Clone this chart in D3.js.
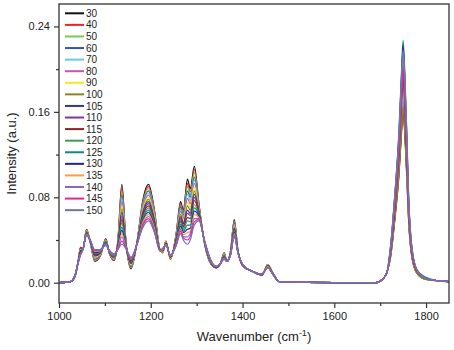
<!DOCTYPE html>
<html>
<head>
<meta charset="utf-8">
<script src="https://cdn.jsdelivr.net/npm/d3@7"></script>
<style>
html,body{margin:0;padding:0;background:#fff;}
svg{display:block;font-family:"Liberation Sans",Arial,sans-serif;}
</style>
</head>
<body>
<svg id="chart" width="454" height="350"></svg>
<script>
// ---- data ----
const wavenumbers = [1000,1025,1035,1042,1047,1052,1060,1068,1078,1090,1102,1110,1120,1128,1137,1146,1157,1170,1183,1195,1208,1220,1226,1233,1243,1255,1265,1271,1280,1286,1295,1305,1318,1332,1343,1352,1360,1366,1374,1382,1390,1402,1420,1442,1455,1466,1480,1600,1690,1705,1715,1722,1732,1741,1746,1750,1754,1758,1762,1769,1780,1800,1825,1850];

const seriesLabels = ["30","40","50","60","70","80","90","100","105","110","115","120","125","130","135","140","145","150"];
const seriesColors = ["#111111","#ee2222","#77cc44","#3355bb","#66ccdd","#cc55aa","#f5e820","#888822","#333399","#883399","#882222","#449955","#118888","#222299","#ff9944","#8866cc","#ee2288","#6677bb"];

const yTicksMajor = [0, 0.08, 0.16, 0.24];
const yTicksMinor = [0.04, 0.12, 0.20];
const xTicksMajor = [1000, 1200, 1400, 1600, 1800];
const xTicksMinor = [1100, 1300, 1500, 1700];

const s30 = [0,0.001,0.006,0.021,0.033,0.031,0.050,0.038,0.020,0.025,0.041,0.027,0.021,0.038,0.092,0.038,0.013,0.038,0.078,0.092,0.068,0.031,0.028,0.039,0.022,0.045,0.076,0.068,0.097,0.088,0.109,0.074,0.035,0.017,0.014,0.018,0.028,0.020,0.030,0.059,0.030,0.015,0.011,0.007,0.017,0.009,0.001,0,0,0.003,0.010,0.022,0.059,0.101,0.136,0.160,0.136,0.099,0.058,0.024,0.009,0.003,0.002,0.001];
const s40 = [0,0.001,0.006,0.021,0.033,0.031,0.050,0.038,0.021,0.025,0.041,0.027,0.021,0.038,0.089,0.038,0.014,0.038,0.076,0.090,0.067,0.031,0.028,0.039,0.022,0.044,0.074,0.066,0.093,0.085,0.106,0.073,0.035,0.017,0.014,0.018,0.028,0.020,0.030,0.058,0.030,0.015,0.011,0.007,0.017,0.009,0.001,0,0,0.003,0.010,0.023,0.061,0.104,0.140,0.165,0.140,0.102,0.059,0.025,0.009,0.003,0.002,0.001];
const s50 = [0,0.001,0.006,0.021,0.032,0.031,0.049,0.038,0.021,0.026,0.040,0.027,0.022,0.037,0.085,0.037,0.014,0.038,0.075,0.088,0.066,0.031,0.028,0.039,0.022,0.044,0.072,0.065,0.090,0.082,0.103,0.072,0.035,0.017,0.014,0.018,0.027,0.020,0.030,0.057,0.030,0.015,0.011,0.007,0.017,0.009,0.001,0,0,0.003,0.010,0.024,0.063,0.107,0.145,0.170,0.145,0.105,0.061,0.026,0.009,0.003,0.002,0.001];
const s60 = [0,0.001,0.006,0.021,0.032,0.031,0.049,0.038,0.022,0.026,0.040,0.028,0.022,0.037,0.082,0.037,0.015,0.038,0.073,0.086,0.064,0.031,0.029,0.038,0.023,0.043,0.071,0.063,0.086,0.080,0.099,0.071,0.036,0.018,0.014,0.018,0.027,0.020,0.029,0.056,0.030,0.015,0.011,0.007,0.016,0.009,0.001,0,0,0.003,0.010,0.025,0.065,0.110,0.149,0.175,0.149,0.109,0.063,0.026,0.010,0.004,0.002,0.001];
const s70 = [0,0.001,0.006,0.021,0.031,0.031,0.049,0.038,0.023,0.026,0.040,0.028,0.022,0.036,0.079,0.037,0.016,0.038,0.072,0.084,0.063,0.031,0.029,0.038,0.023,0.042,0.069,0.061,0.083,0.077,0.096,0.070,0.036,0.018,0.014,0.018,0.027,0.020,0.029,0.055,0.030,0.015,0.011,0.007,0.016,0.009,0.001,0,0,0.003,0.010,0.025,0.066,0.112,0.151,0.178,0.151,0.110,0.064,0.027,0.010,0.004,0.002,0.001];
const s80 = [0,0.001,0.006,0.020,0.031,0.031,0.048,0.039,0.023,0.027,0.039,0.028,0.023,0.036,0.076,0.036,0.016,0.037,0.070,0.082,0.062,0.031,0.029,0.038,0.023,0.042,0.067,0.060,0.079,0.074,0.093,0.069,0.036,0.018,0.014,0.018,0.026,0.020,0.029,0.054,0.029,0.015,0.011,0.007,0.016,0.009,0.001,0,0,0.003,0.010,0.026,0.068,0.117,0.157,0.185,0.157,0.115,0.067,0.028,0.010,0.004,0.002,0.001];
const s90 = [0,0.001,0.006,0.020,0.031,0.031,0.048,0.039,0.024,0.027,0.039,0.028,0.023,0.036,0.072,0.036,0.017,0.037,0.069,0.080,0.061,0.031,0.029,0.038,0.023,0.041,0.065,0.058,0.075,0.071,0.090,0.068,0.036,0.018,0.014,0.018,0.026,0.020,0.029,0.053,0.029,0.015,0.011,0.007,0.016,0.009,0.001,0,0,0.003,0.010,0.026,0.070,0.118,0.160,0.188,0.160,0.117,0.068,0.028,0.010,0.004,0.002,0.001];
const s100 = [0,0.001,0.006,0.020,0.030,0.031,0.048,0.039,0.025,0.027,0.039,0.028,0.023,0.035,0.069,0.036,0.018,0.037,0.067,0.078,0.059,0.031,0.030,0.037,0.024,0.040,0.064,0.056,0.072,0.068,0.086,0.067,0.036,0.018,0.014,0.018,0.026,0.020,0.028,0.052,0.029,0.015,0.011,0.007,0.016,0.009,0.001,0,0,0.003,0.010,0.023,0.061,0.104,0.140,0.165,0.140,0.102,0.059,0.025,0.009,0.003,0.002,0.001];
const s105 = [0,0.001,0.006,0.020,0.030,0.031,0.047,0.039,0.025,0.028,0.038,0.028,0.024,0.035,0.066,0.035,0.018,0.037,0.066,0.076,0.058,0.031,0.030,0.037,0.024,0.040,0.062,0.055,0.068,0.065,0.083,0.066,0.036,0.018,0.014,0.018,0.025,0.020,0.028,0.051,0.029,0.015,0.011,0.007,0.016,0.009,0.001,0,0,0.003,0.010,0.027,0.071,0.121,0.163,0.192,0.163,0.119,0.069,0.029,0.011,0.004,0.002,0.001];
const s110 = [0,0.001,0.007,0.020,0.029,0.031,0.047,0.039,0.026,0.028,0.038,0.029,0.024,0.034,0.062,0.035,0.019,0.037,0.064,0.074,0.057,0.030,0.030,0.037,0.024,0.039,0.060,0.053,0.065,0.063,0.080,0.066,0.037,0.019,0.015,0.018,0.025,0.020,0.028,0.051,0.029,0.016,0.011,0.008,0.015,0.008,0.001,0,0,0.003,0.010,0.028,0.073,0.124,0.167,0.197,0.167,0.122,0.071,0.030,0.011,0.004,0.002,0.001];
const s115 = [0,0.001,0.007,0.020,0.029,0.031,0.046,0.039,0.026,0.029,0.037,0.029,0.025,0.034,0.059,0.034,0.019,0.037,0.063,0.072,0.056,0.030,0.030,0.037,0.024,0.039,0.058,0.052,0.061,0.060,0.077,0.065,0.037,0.019,0.015,0.018,0.024,0.020,0.028,0.050,0.029,0.016,0.011,0.008,0.015,0.008,0.001,0,0,0.003,0.010,0.028,0.074,0.126,0.170,0.200,0.170,0.124,0.072,0.030,0.011,0.004,0.002,0.001];
const s120 = [0,0.001,0.007,0.020,0.028,0.031,0.046,0.039,0.027,0.029,0.037,0.029,0.025,0.033,0.056,0.034,0.020,0.037,0.061,0.070,0.054,0.030,0.031,0.036,0.025,0.038,0.057,0.050,0.058,0.057,0.073,0.064,0.037,0.019,0.015,0.018,0.024,0.020,0.027,0.049,0.029,0.016,0.011,0.008,0.015,0.008,0.001,0,0,0.003,0.010,0.029,0.078,0.132,0.179,0.210,0.179,0.130,0.076,0.032,0.012,0.004,0.002,0.001];
const s125 = [0,0.001,0.007,0.020,0.028,0.031,0.046,0.039,0.028,0.029,0.037,0.029,0.025,0.033,0.052,0.034,0.021,0.037,0.060,0.068,0.053,0.030,0.031,0.036,0.025,0.037,0.055,0.048,0.054,0.054,0.070,0.063,0.037,0.019,0.015,0.018,0.024,0.020,0.027,0.048,0.029,0.016,0.011,0.008,0.015,0.008,0.001,0,0,0.003,0.010,0.032,0.084,0.143,0.193,0.227,0.193,0.141,0.082,0.034,0.012,0.005,0.002,0.001];
const s130 = [0,0.001,0.007,0.019,0.028,0.031,0.045,0.040,0.028,0.030,0.036,0.029,0.026,0.033,0.049,0.033,0.021,0.036,0.058,0.066,0.052,0.030,0.031,0.036,0.025,0.037,0.053,0.047,0.050,0.051,0.067,0.062,0.037,0.019,0.015,0.018,0.023,0.020,0.027,0.047,0.028,0.016,0.011,0.008,0.015,0.008,0.001,0,0,0.003,0.010,0.031,0.082,0.140,0.189,0.222,0.189,0.138,0.080,0.033,0.012,0.004,0.002,0.001];
const s135 = [0,0.001,0.007,0.019,0.027,0.031,0.045,0.040,0.029,0.030,0.036,0.029,0.026,0.032,0.046,0.033,0.022,0.036,0.057,0.064,0.051,0.030,0.031,0.036,0.025,0.036,0.051,0.045,0.047,0.048,0.064,0.061,0.037,0.019,0.015,0.018,0.023,0.020,0.027,0.046,0.028,0.016,0.011,0.008,0.015,0.008,0.001,0,0,0.003,0.010,0.030,0.080,0.135,0.183,0.215,0.183,0.133,0.077,0.032,0.012,0.004,0.002,0.001];
const s140 = [0,0.001,0.007,0.019,0.027,0.031,0.045,0.040,0.030,0.030,0.036,0.030,0.026,0.032,0.043,0.033,0.023,0.036,0.055,0.062,0.049,0.030,0.032,0.035,0.026,0.035,0.050,0.043,0.043,0.046,0.060,0.060,0.038,0.020,0.015,0.018,0.023,0.020,0.026,0.045,0.028,0.016,0.011,0.008,0.014,0.008,0.001,0,0,0.003,0.010,0.029,0.076,0.129,0.174,0.205,0.174,0.127,0.074,0.031,0.011,0.004,0.002,0.001];
const s145 = [0,0.001,0.007,0.019,0.026,0.031,0.044,0.040,0.030,0.031,0.035,0.030,0.027,0.031,0.039,0.032,0.023,0.036,0.054,0.060,0.048,0.030,0.032,0.035,0.026,0.035,0.048,0.042,0.040,0.043,0.057,0.059,0.038,0.020,0.015,0.018,0.022,0.020,0.026,0.044,0.028,0.016,0.011,0.008,0.014,0.008,0.001,0,0,0.003,0.010,0.028,0.074,0.126,0.170,0.200,0.170,0.124,0.072,0.030,0.011,0.004,0.002,0.001];
const s150 = [0,0.001,0.007,0.019,0.026,0.031,0.044,0.040,0.031,0.031,0.035,0.030,0.027,0.031,0.036,0.032,0.024,0.036,0.052,0.058,0.047,0.030,0.032,0.035,0.026,0.034,0.046,0.040,0.036,0.040,0.054,0.058,0.038,0.020,0.015,0.018,0.022,0.020,0.026,0.043,0.028,0.016,0.011,0.008,0.014,0.008,0.001,0,0,0.003,0.010,0.031,0.081,0.137,0.185,0.218,0.185,0.135,0.078,0.033,0.012,0.004,0.002,0.001];

const seriesValues = [s30,s40,s50,s60,s70,s80,s90,s100,s105,s110,s115,s120,s125,s130,s135,s140,s145,s150];

// ---- layout ----
const svg = d3.select("#chart");
const margin = {left: 59, right: 5, top: 4, bottom: 47};
const W = 454, H = 350;
const x = d3.scaleLinear().domain([1000, 1850]).range([margin.left, W - margin.right]);
const y = d3.scaleLinear().domain([-0.019, 0.261]).range([H - margin.bottom, margin.top]);

svg.append("defs").append("clipPath").attr("id","plotclip")
  .append("rect").attr("x", x.range()[0]).attr("y", y.range()[1])
  .attr("width", x.range()[1]-x.range()[0]).attr("height", y.range()[0]-y.range()[1]);

const line = d3.line()
  .x((d,i) => x(wavenumbers[i]))
  .y(d => y(d))
  .curve(d3.curveMonotoneX);

const gLines = svg.append("g").attr("clip-path","url(#plotclip)");
seriesValues.forEach((vals, k) => {
  gLines.append("path")
    .attr("d", line(vals))
    .attr("fill","none")
    .attr("stroke", seriesColors[k])
    .attr("stroke-width", 1.2)
    .attr("stroke-linejoin","round");
});

// ---- axes ----
const axisColor = "#333";
const xAxis = svg.append("g").attr("transform", `translate(0,${y.range()[0]})`)
  .call(d3.axisBottom(x).tickValues(xTicksMajor).tickSize(5).tickPadding(4).tickFormat(d3.format("d")));
const xMinor = svg.append("g").attr("transform", `translate(0,${y.range()[0]})`)
  .call(d3.axisBottom(x).tickValues(xTicksMinor).tickSize(3).tickFormat(""));
const yAxis = svg.append("g").attr("transform", `translate(${x.range()[0]},0)`)
  .call(d3.axisLeft(y).tickValues(yTicksMajor).tickSize(5).tickPadding(4).tickFormat(d3.format(".2f")));
const yMinor = svg.append("g").attr("transform", `translate(${x.range()[0]},0)`)
  .call(d3.axisLeft(y).tickValues(yTicksMinor).tickSize(3).tickFormat(""));

[xAxis, xMinor, yAxis, yMinor].forEach(g => {
  g.select(".domain").remove();
  g.selectAll(".tick line").attr("stroke", axisColor).attr("stroke-width", 1.2);
  g.selectAll("text").attr("font-size", 11).attr("fill", "#222")
    .attr("font-family", "'Liberation Sans', Arial, sans-serif");
});

// frame
svg.append("rect")
  .attr("x", x.range()[0]).attr("y", y.range()[1])
  .attr("width", x.range()[1]-x.range()[0]).attr("height", y.range()[0]-y.range()[1])
  .attr("fill","none").attr("stroke", axisColor).attr("stroke-width", 1.3);

// axis titles
const xt = svg.append("text")
  .attr("x", (x.range()[0]+x.range()[1])/2).attr("y", 341)
  .attr("text-anchor","middle").attr("font-size", 13).attr("fill","#222");
xt.append("tspan").text("Wavenumber (cm");
xt.append("tspan").attr("font-size", 9).attr("dy", -5).text("-1");
xt.append("tspan").attr("dy", 5).text(")");

svg.append("text")
  .attr("transform", `translate(16,${(y.range()[0]+y.range()[1])/2}) rotate(-90)`)
  .attr("text-anchor","middle").attr("font-size", 13).attr("fill","#222")
  .text("Intensity (a.u.)");

// legend
const legend = svg.append("g");
seriesLabels.forEach((lab, k) => {
  const yy = 13.3 + k * 11.58;
  legend.append("line").attr("x1", 65).attr("x2", 84).attr("y1", yy).attr("y2", yy)
    .attr("stroke", seriesColors[k]).attr("stroke-width", 2);
  legend.append("text").attr("x", 86).attr("y", yy + 3.6)
    .attr("font-size", 10).attr("fill", "#222").text(lab);
});
</script>
</body>
</html>
